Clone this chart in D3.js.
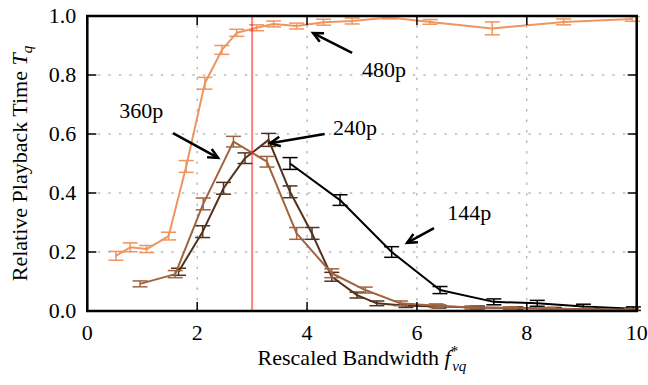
<!DOCTYPE html>
<html>
<head>
<meta charset="utf-8">
<script src="https://cdn.jsdelivr.net/npm/d3@7/dist/d3.min.js"></script>
<style>
  body { margin: 0; background: #fff; }
  text, tspan { font-family: 'Liberation Serif', 'Times New Roman', serif; }
</style>
</head>
<body>
<div id="chart"></div>
<script>
// ---- data ----
const x144 = [3.69, 4.60, 5.54, 6.42, 7.40, 8.19, 9.03, 9.94];
const y144 = [0.500, 0.376, 0.200, 0.071, 0.031, 0.026, 0.015, 0.008];
const e144 = [0.020, 0.018, 0.018, 0.012, 0.010, 0.010, 0.008, 0.006];

const x240 = [1.66, 2.10, 2.48, 2.87, 3.30, 3.69, 4.09, 4.45, 4.91, 5.27, 5.80, 6.40, 7.10, 7.80, 8.50, 9.20, 9.90];
const y240 = [0.133, 0.269, 0.416, 0.518, 0.580, 0.404, 0.263, 0.116, 0.054, 0.026, 0.018, 0.015, 0.012, 0.010, 0.008, 0.006, 0.004];
const e240 = [0.012, 0.020, 0.020, 0.018, 0.022, 0.020, 0.020, 0.015, 0.010, 0.008, 0.006, 0.005, 0.005, 0.004, 0.004, 0.003, 0.003];

const x360 = [0.96, 1.60, 2.11, 2.66, 3.27, 3.81, 4.45, 5.06, 5.70, 6.35, 7.00, 7.70, 8.40, 9.10, 9.90];
const y360 = [0.092, 0.125, 0.363, 0.574, 0.506, 0.263, 0.128, 0.071, 0.026, 0.018, 0.012, 0.010, 0.008, 0.006, 0.004];
const e360 = [0.010, 0.012, 0.020, 0.018, 0.018, 0.020, 0.015, 0.010, 0.008, 0.006, 0.005, 0.004, 0.004, 0.003, 0.003];

const x480 = [0.52, 0.78, 1.08, 1.48, 1.80, 2.14, 2.45, 2.72, 3.08, 3.39, 3.81, 4.30, 4.82, 5.50, 6.24, 7.37, 8.67, 9.92];
const y480 = [0.187, 0.216, 0.210, 0.254, 0.490, 0.772, 0.885, 0.943, 0.960, 0.973, 0.966, 0.979, 0.983, 0.995, 0.980, 0.958, 0.980, 0.990];
const e480 = [0.015, 0.015, 0.012, 0.013, 0.020, 0.020, 0.015, 0.012, 0.010, 0.010, 0.010, 0.010, 0.010, 0.005, 0.008, 0.022, 0.010, 0.008];

const seriesNames = ['144p', '240p', '360p', '480p'];
const seriesColors = ['#000000', '#50321f', '#9f643f', '#ef955f'];

const xTicks = [0, 2, 4, 6, 8, 10];
const yTicks = [0.0, 0.2, 0.4, 0.6, 0.8, 1.0];
const threshold = 3;

// annotations: label, text position, arrow tail, arrow tip (data coords)
const notes = [
  {label: '360p', tx: 0.58, ty: 0.654, x0: 1.56, y0: 0.603, x1: 2.38, y1: 0.519},
  {label: '480p', tx: 5.00, ty: 0.793, x0: 4.82, y0: 0.875, x1: 4.11, y1: 0.942},
  {label: '240p', tx: 4.47, ty: 0.597, x0: 4.32, y0: 0.600, x1: 3.33, y1: 0.569},
  {label: '144p', tx: 6.55, ty: 0.308, x0: 6.31, y0: 0.281, x1: 5.82, y1: 0.231}
];

// ---- layout ----
const W = 648, H = 385;
const margin = {left: 87.3, right: 11.3, top: 16, bottom: 74};
const serif = "'Liberation Serif', 'Times New Roman', serif";

const svg = d3.select('#chart').append('svg')
  .attr('width', W)
  .attr('height', H)
  .style('font-family', serif);

const x = d3.scaleLinear().domain([0, 10]).range([margin.left, W - margin.right]);
const y = d3.scaleLinear().domain([0, 1]).range([H - margin.bottom, margin.top]);

// small helper so every label gets the serif face
function label(sel, size) {
  return sel.append('text')
    .style('font-family', serif)
    .attr('font-family', 'Liberation Serif')
    .attr('font-size', size);
}

// grid
const grid = svg.append('g')
  .attr('stroke', '#9a9a9a')
  .attr('stroke-width', 1)
  .attr('stroke-dasharray', '2.5,8');
grid.selectAll('.gx').data(xTicks.slice(1, -1)).enter().append('line')
  .attr('x1', d => x(d)).attr('x2', d => x(d))
  .attr('y1', y(0)).attr('y2', y(1));
grid.selectAll('.gy').data(yTicks.slice(1, -1)).enter().append('line')
  .attr('x1', x(0)).attr('x2', x(10))
  .attr('y1', d => y(d)).attr('y2', d => y(d));

// series
const allSeries = [
  {xs: x144, ys: y144, es: e144},
  {xs: x240, ys: y240, es: e240},
  {xs: x360, ys: y360, es: e360},
  {xs: x480, ys: y480, es: e480}
];

const line = d3.line().x(d => x(d.x)).y(d => y(d.y));
const cap = 7.5;

allSeries.forEach((s, i) => {
  const pts = s.xs.map((v, j) => ({x: v, y: s.ys[j], e: s.es[j]}));
  const g = svg.append('g').attr('class', 'series-' + seriesNames[i]);
  const col = seriesColors[i];

  g.append('path')
    .datum(pts)
    .attr('d', line)
    .attr('fill', 'none')
    .attr('stroke', col)
    .attr('stroke-width', 2)
    .attr('stroke-linejoin', 'round');

  const bars = g.selectAll('.eb').data(pts).enter().append('g')
    .attr('stroke', col)
    .attr('stroke-width', 1.5);
  bars.append('line')
    .attr('x1', d => x(d.x)).attr('x2', d => x(d.x))
    .attr('y1', d => y(d.y - d.e)).attr('y2', d => y(d.y + d.e));
  bars.append('line')
    .attr('x1', d => x(d.x) - cap).attr('x2', d => x(d.x) + cap)
    .attr('y1', d => y(d.y - d.e)).attr('y2', d => y(d.y - d.e));
  bars.append('line')
    .attr('x1', d => x(d.x) - cap).attr('x2', d => x(d.x) + cap)
    .attr('y1', d => y(d.y + d.e)).attr('y2', d => y(d.y + d.e));
});

// threshold line
svg.append('line')
  .attr('x1', x(threshold)).attr('x2', x(threshold))
  .attr('y1', y(0)).attr('y2', y(1))
  .attr('stroke', '#ff0000')
  .attr('stroke-opacity', 0.5)
  .attr('stroke-width', 2);

// annotations
const ann = svg.append('g');
notes.forEach(n => {
  const ax0 = x(n.x0), ay0 = y(n.y0), ax1 = x(n.x1), ay1 = y(n.y1);
  const ang = Math.atan2(ay1 - ay0, ax1 - ax0);
  const hl = 11, hw = 0.45;
  ann.append('line')
    .attr('x1', ax0).attr('y1', ay0).attr('x2', ax1).attr('y2', ay1)
    .attr('stroke', '#000').attr('stroke-width', 2.5);
  ann.append('path')
    .attr('d', `M${ax1 - hl * Math.cos(ang - hw)},${ay1 - hl * Math.sin(ang - hw)}L${ax1},${ay1}L${ax1 - hl * Math.cos(ang + hw)},${ay1 - hl * Math.sin(ang + hw)}`)
    .attr('fill', 'none')
    .attr('stroke', '#000')
    .attr('stroke-width', 2.5)
    .attr('stroke-linejoin', 'miter');
  label(ann, 22)
    .attr('x', x(n.tx)).attr('y', y(n.ty))
    .text(n.label);
});

// frame + inward ticks on all sides
const tickLen = 9;
const ticks = svg.append('g').attr('stroke', '#000').attr('stroke-width', 1.5);
xTicks.forEach(t => {
  ticks.append('line').attr('x1', x(t)).attr('x2', x(t)).attr('y1', y(0)).attr('y2', y(0) - tickLen);
  ticks.append('line').attr('x1', x(t)).attr('x2', x(t)).attr('y1', y(1)).attr('y2', y(1) + tickLen);
});
yTicks.forEach(t => {
  ticks.append('line').attr('x1', x(0)).attr('x2', x(0) + tickLen).attr('y1', y(t)).attr('y2', y(t));
  ticks.append('line').attr('x1', x(10)).attr('x2', x(10) - tickLen).attr('y1', y(t)).attr('y2', y(t));
});

svg.append('rect')
  .attr('x', x(0)).attr('y', y(1))
  .attr('width', x(10) - x(0)).attr('height', y(0) - y(1))
  .attr('fill', 'none')
  .attr('stroke', '#000')
  .attr('stroke-width', 2.5);

// tick labels
const xtl = svg.append('g');
xTicks.forEach(t => {
  label(xtl, 22)
    .attr('x', x(t)).attr('y', y(0) + 29)
    .attr('text-anchor', 'middle')
    .text(d3.format('d')(t));
});
const ytl = svg.append('g');
yTicks.forEach(t => {
  label(ytl, 22)
    .attr('x', x(0) - 11).attr('y', y(t) + 7)
    .attr('text-anchor', 'end')
    .text(d3.format('.1f')(t));
});

// axis labels
const xl = label(svg, 22)
  .attr('x', (x(0) + x(10)) / 2).attr('y', 365)
  .attr('text-anchor', 'middle');
xl.append('tspan').text('Rescaled Bandwidth ');
xl.append('tspan').attr('font-style', 'italic').text('f');
xl.append('tspan').attr('font-size', 15).attr('dy', -9).text('*');
xl.append('tspan').attr('font-size', 15).attr('font-style', 'italic').attr('dx', -6).attr('dy', 15).text('vq');

const yl = label(svg, 22)
  .attr('transform', `translate(27,${(y(0) + y(1)) / 2}) rotate(-90)`)
  .attr('text-anchor', 'middle');
yl.append('tspan').text('Relative Playback Time ');
yl.append('tspan').attr('font-style', 'italic').text('T');
yl.append('tspan').attr('font-size', 15).attr('font-style', 'italic').attr('dy', 5).text('q');
</script>
</body>
</html>
